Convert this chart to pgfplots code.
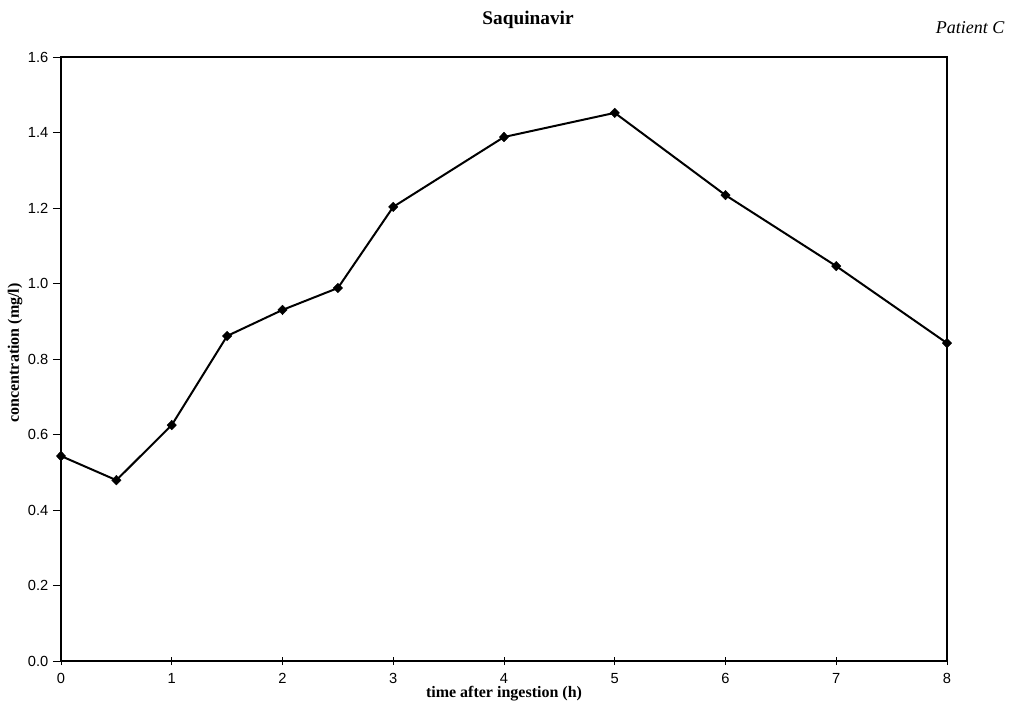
\documentclass[border=0pt]{standalone}
\usepackage{fontspec}
\setmainfont{Liberation Serif}
\newfontfamily\arialfont{Liberation Sans}
\usepackage{pgfplots}
\pgfplotsset{compat=1.18}
\begin{document}
\begin{tikzpicture}
\useasboundingbox (-45.75pt,-36.75pt) rectangle (714pt,495.75pt);
\begin{axis}[
  at={(0,0)}, anchor=south west,
  scale only axis, width=664.5pt, height=453pt,
  xmin=0, xmax=8, ymin=0, ymax=1.6,
  xtick={0,1,...,8}, ytick={0,0.2,...,1.6},
  axis line style={black, line width=0.8pt},
  x tick style={black, line width=0.7pt},
  y tick style={black, line width=0.7pt},
  xtick align=center, ytick align=outside,
  major tick length=6pt,
  xtick pos=bottom, ytick pos=left,
  tick label style={font=\arialfont\fontsize{11}{12}\selectfont},
  /pgf/number format/assume math mode=true,
  yticklabel style={/pgf/number format/.cd, fixed, fixed zerofill, precision=1},
  xticklabel style={yshift=-3pt},
  clip=false,
]
\addplot[black, line width=1.5pt, mark=diamond*, mark size=3.6pt, mark options={solid, line width=0.3pt, xscale=1.3}] coordinates {
(0,0.543) (0.5,0.479) (1,0.625) (1.5,0.861) (2,0.930) (2.5,0.988) (3,1.203) (4,1.388) (5,1.452) (6,1.234) (7,1.046) (8,0.842)
};
\end{axis}
\node[font=\bfseries\fontsize{14.5}{16}\selectfont] at (350.25pt,480.75pt) {Saquinavir};
\node[font=\itshape\fontsize{13.5}{15}\selectfont] at (681.75pt,474.75pt) {Patient C};
\node[font=\bfseries\fontsize{12}{14}\selectfont] at (332.25pt,-24.75pt) {time after ingestion (h)};
\node[font=\bfseries\fontsize{12}{14}\selectfont, rotate=90] at (-34.5pt,231pt) {concentration (mg/l)};
\end{tikzpicture}
\end{document}
